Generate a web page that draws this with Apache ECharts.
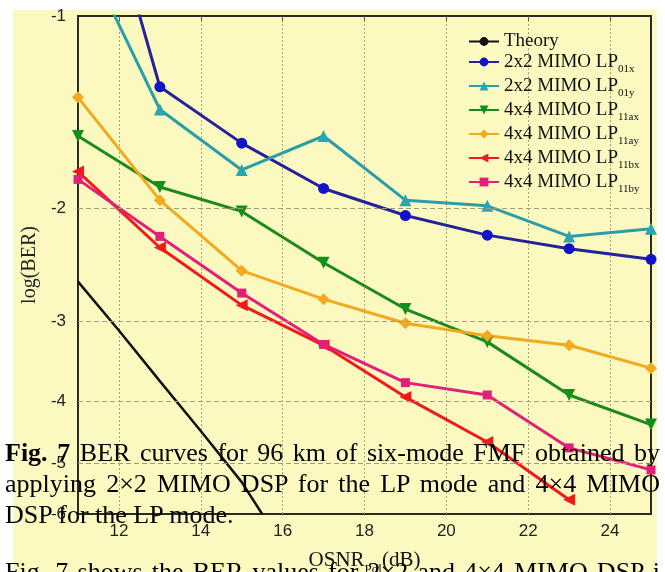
<!DOCTYPE html>
<html>
<head>
<meta charset="utf-8">
<title></title>
<script src="https://cdn.jsdelivr.net/npm/echarts@6/dist/echarts.min.js"></script>
<style>
body { margin: 0; background: #fff; }
#wrap { position: relative; width: 665px; height: 572px; overflow: hidden; }
#paper { position: absolute; left: 13px; top: 10px; width: 644px; height: 562px; background: #fcf9c0; }
#main { position: absolute; left: 0; top: 0; width: 665px; height: 572px; }
.cap { position: absolute; left: 5px; width: 655px; font-family: 'Liberation Serif', 'Times New Roman', serif;
       font-size: 26px; line-height: 31px; color: #000; }
.just { text-align: justify; text-align-last: justify; }
</style>
</head>
<body>
<div id="wrap">
<div id="paper"></div>
<div id="main"></div>
<div class="cap just" style="top:437px"><b>Fig. 7</b> BER curves for 96 km of six-mode FMF obtained by</div>
<div class="cap just" style="top:468px">applying 2×2 MIMO DSP for the LP mode and 4×4 MIMO</div>
<div class="cap" style="top:499px">DSP for the LP mode.</div>
<div class="cap just" style="top:556px">Fig. 7 shows the BER values for 2×2 and 4×4 MIMO DSP i</div>
</div>

<script type="text/javascript">

// OSNR (dB) of the measured points
let OSNR = [11, 13, 15, 17, 19, 21, 23, 25];
// theory curve
let THEORY_X = [11, 12, 13, 14, 15, 15.5];
let THEORY = [-2.6, -3.1, -3.72, -4.45, -5.35, -6.0];
// log(BER)
let LP01X = [-0.46, -1.29, -1.58, -1.86, -2.05, -2.20, -2.31, -2.40];
let LP01Y = [-0.76, -1.40, -1.74, -1.54, -1.94, -1.98, -2.21, -2.15];
let LP11AX = [-1.54, -1.85, -2.02, -2.43, -2.87, -3.23, -3.91, -4.35];
let LP11AY = [-1.34, -1.94, -2.50, -2.77, -3.02, -3.16, -3.27, -3.55];
let LP11BX = [-1.75, -2.30, -2.83, -3.27, -3.94, -4.63, -5.70];
let LP11BY = [-1.80, -2.21, -2.71, -3.26, -3.74, -3.91, -4.73, -5.12];

let Y_TICKS = [-1, -2, -3, -4, -5, -6];
let X_TICKS = [12, 14, 16, 18, 20, 22, 24];

const SERIF = "'Liberation Serif', 'Times New Roman', serif";
const SANS = "'Liberation Sans Narrow', 'Liberation Sans', Arial, sans-serif";

// y axis is log(-log BER), so feed the magnitude to a log axis
function pts(xs, ys){
	return ys.map((v, i) => [xs[i], -v]);
}

function mkSeries(name, ys, color, lineColor, symbol, size, rotate){
	return {
		name: name,
		type: 'line',
		data: pts(OSNR, ys),
		symbol: symbol,
		symbolSize: size,
		symbolRotate: rotate || 0,
		clip: true,
		itemStyle: { color: color },
		lineStyle: { color: lineColor, width: 3 },
		z: 3
	};
}

let gridLines = Y_TICKS.map((t) => ({
	yAxis: -t,
	name: String(t),
	lineStyle: (t === -1 || t === -6)
		? { color: 'rgba(0,0,0,0)' }
		: { color: '#a39c74', type: [5, 3], width: 1 }
}));

let series = [
	{
		name: 'Theory',
		type: 'line',
		data: pts(THEORY_X, THEORY),
		symbol: 'none',
		clip: true,
		lineStyle: { color: '#111', width: 2.5 },
		itemStyle: { color: '#111' },
		z: 2,
		markLine: {
			silent: true,
			symbol: 'none',
			animation: false,
			label: {
				position: 'start',
				formatter: '{b}',
				distance: 12,
				fontFamily: SANS,
				fontSize: 17,
				color: '#222'
			},
			data: gridLines
		}
	},
	mkSeries('2x2 MIMO LP01x', LP01X, '#1212c8', '#22229a', 'circle', 11),
	mkSeries('2x2 MIMO LP01y', LP01Y, '#2aa6b0', '#2a9ea6', 'triangle', 12),
	mkSeries('4x4 MIMO LP11ax', LP11AX, '#12901a', '#1b8a1b', 'triangle', 12, 180),
	mkSeries('4x4 MIMO LP11ay', LP11AY, '#f2a91e', '#f2a91e', 'diamond', 12),
	mkSeries('4x4 MIMO LP11bx', LP11BX, '#f01a1a', '#f01a1a', 'triangle', 12, 90),
	mkSeries('4x4 MIMO LP11by', LP11BY, '#e02079', '#e02079', 'rect', 9)
];

var myChart = echarts.init(document.getElementById('main'));

var option = {
	animation: false,
	backgroundColor: 'transparent',
	grid: {
		left: 78, right: 14, top: 16, bottom: 58,
		outerBoundsMode: 'none',
		containLabel: false,
		show: true, borderColor: '#2a2a2a', borderWidth: 2,
		backgroundColor: 'transparent'
	},
	legend: {
		orient: 'vertical',
		left: 468, top: 32,
		padding: 0,
		itemGap: -2,
		itemWidth: 30,
		itemHeight: 11,
		selectedMode: false,
		data: series.map((s) => s.name),
		formatter: (n) => {
			let m = n.match(/^(.*LP)(\w+)$/);
			return m ? '{m|' + m[1] + '}{s|' + m[2] + '}' : '{m|' + n + '}';
		},
		textStyle: {
			rich: {
				m: { fontFamily: SERIF, fontSize: 19, color: '#111', lineHeight: 22 },
				s: { fontFamily: SERIF, fontSize: 11, color: '#111', lineHeight: 22, padding: [15, 0, 0, 0] }
			}
		}
	},
	xAxis: [{
		type: 'value',
		min: 11, max: 25,
		name: '{m|OSNR}{s|Pol}{m|(dB)}',
		nameLocation: 'middle',
		nameGap: 32,
		nameTextStyle: {
			rich: {
				m: { fontFamily: SERIF, fontSize: 21, color: '#111', lineHeight: 24 },
				s: { fontFamily: SERIF, fontSize: 13, color: '#111', lineHeight: 24, padding: [18, 0, 0, 0] }
			}
		},
		axisLine: { show: false },
		axisTick: { show: false, customValues: X_TICKS },
		axisLabel: { customValues: X_TICKS, fontFamily: SANS, fontSize: 17, color: '#222', margin: 9 },
		splitLine: { show: true, lineStyle: { color: '#aaa47e', type: [2, 2], width: 1 } }
	}, {
		type: 'value',
		min: 11, max: 25,
		position: 'top',
		axisLine: { show: false },
		axisTick: { show: true, inside: true, length: 5, customValues: X_TICKS, lineStyle: { color: '#555' } },
		axisLabel: { show: false, customValues: X_TICKS },
		splitLine: { show: false }
	}],
	yAxis: {
		type: 'log',
		logBase: 10,
		min: 1, max: 6,
		inverse: true,
		name: 'log(BER)',
		nameLocation: 'middle',
		nameRotate: 90,
		nameGap: 38,
		nameTextStyle: { fontFamily: SERIF, fontSize: 20, color: '#222' },
		axisLine: { show: false },
		axisTick: { show: false },
		axisLabel: { show: false },
		splitLine: { show: false }
	},
	series: series
};

myChart.setOption(option);

</script>
</body>
</html>
